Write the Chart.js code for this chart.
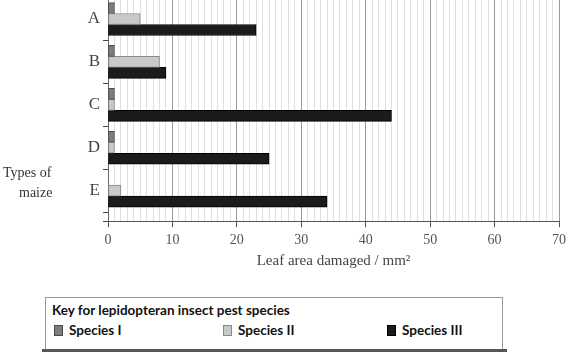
<!DOCTYPE html>
<html>
<head>
<meta charset="utf-8">
<script src="https://cdn.jsdelivr.net/npm/chart.js@4/dist/chart.umd.min.js"></script>
<style>
  html, body { margin: 0; padding: 0; background: #fff; }
  #wrap { position: relative; width: 568px; height: 356px; overflow: hidden; }
  #c { position: absolute; left: 0; top: 0; }
  #key { position: absolute; left: 45px; top: 297px; width: 456px; height: 51px;
         border: 1px solid #9a9a9a; border-bottom: none; box-sizing: content-box;
         font-family: Lato, "Liberation Sans", sans-serif; font-weight: bold; color: #111; }
  #keyline { position: absolute; left: 42px; top: 349px; width: 465px; height: 3px; background: #555; }
  #keytitle { position: absolute; left: 6px; top: 4px; font-size: 13.5px; white-space: nowrap; }
  .item { position: absolute; top: 24px; font-size: 13.5px; white-space: nowrap; }
  .sw { display: inline-block; width: 9px; height: 11px; vertical-align: -1px; margin-right: 6px; box-sizing: border-box; }
</style>
</head>
<body>
<div id="wrap">
  <canvas id="c" width="568" height="270"></canvas>
  <div id="key"><div id="keytitle"></div></div>
  <div id="keyline"></div>
</div>
<script>
const categories = ['A', 'B', 'C', 'D', 'E'];
const seriesNames = ['Species I', 'Species II', 'Species III'];
const speciesI   = [1, 1, 1, 1, 0];
const speciesII  = [5, 8, 1, 1, 2];
const speciesIII = [23, 9, 44, 25, 34];
const xTickMin = 0;
const xTickMax = 70;
const xMajorStep = 10;
const keyTitle = 'Key for lepidopteran insect pest species';
const xTitle = 'Leaf area damaged / mm\u00B2';
const yTitleLines = ['Types of', 'maize'];

const fills = ['#7d7d7d', '#c9c9c9', '#1b1b1b'];
const borders = ['#4a4a4a', '#8a8a8a', '#000000'];
const seriesValues = [speciesI, speciesII, speciesIII];

const datasets = seriesNames.map((name, s) => ({
  label: name,
  data: categories.map((c, i) => ({ x: seriesValues[s][i], y: i })),
  backgroundColor: fills[s],
  borderColor: borders[s],
  borderWidth: 1,
  borderSkipped: false,
  barThickness: 11
}));

const yTickValues = [];
for (let v = 0; v <= categories.length - 0.5; v += 0.5) yTickValues.push(v);

const yTitlePlugin = {
  id: 'yTitle',
  afterDraw(chart) {
    const ctx = chart.ctx;
    ctx.save();
    ctx.font = '14px "Liberation Serif", serif';
    ctx.fillStyle = '#333';
    ctx.textBaseline = 'alphabetic';
    ctx.textAlign = 'left';
    ctx.fillText(yTitleLines[0], 3, 177);
    ctx.fillText(yTitleLines[1], 19, 197);
    ctx.restore();
  }
};

new Chart(document.getElementById('c'), {
  type: 'bar',
  data: { datasets },
  plugins: [yTitlePlugin],
  options: {
    indexAxis: 'y',
    responsive: false,
    animation: false,
    devicePixelRatio: 1,
    layout: { padding: { top: 0, right: 9, bottom: 1, left: 0 } },
    plugins: { legend: { display: false }, tooltip: { enabled: false } },
    scales: {
      x: {
        type: 'linear',
        position: 'bottom',
        min: xTickMin,
        max: xTickMax,
        offset: false,
        afterFit: scale => { scale.paddingRight = 0; scale.paddingLeft = 0; },
        ticks: {
          stepSize: 1,
          autoSkip: false,
          maxRotation: 0,
          padding: 5,
          color: '#555',
          font: { family: '"Liberation Serif", serif', size: 14 },
          callback: v => (v % xMajorStep === 0 ? String(v) : '')
        },
        grid: {
          offset: false,
          color: ctx => (ctx.tick && ctx.tick.value % xMajorStep === 0 ? '#9a9a9a' : '#e0e0e0'),
          tickColor: ctx => (ctx.tick && ctx.tick.value % xMajorStep === 0 ? '#555' : 'rgba(0,0,0,0)'),
          tickLength: 6,
          lineWidth: 1
        },
        border: { display: true, color: '#555', width: 1 },
        title: {
          display: true,
          text: xTitle,
          color: '#444',
          font: { family: '"Liberation Serif", serif', size: 15, lineHeight: 1 },
          padding: { top: 0, bottom: 0 }
        }
      },
      y: {
        type: 'linear',
        reverse: true,
        offset: false,
        min: -0.443,
        max: 4.711,
        afterBuildTicks: scale => {
          scale.ticks = yTickValues.map(v => ({ value: v })).concat([{ value: scale.max }]);
        },
        afterFit: scale => { scale.width = 108; scale.paddingTop = 0; scale.paddingBottom = 0; },
        ticks: {
          autoSkip: false,
          padding: 3,
          color: '#444',
          font: { family: '"Liberation Serif", serif', size: 17 },
          callback: v => (Number.isInteger(v) ? categories[v] : '')
        },
        grid: {
          offset: false,
          drawOnChartArea: false,
          tickLength: 5,
          tickColor: ctx => (ctx.tick && Number.isInteger(ctx.tick.value) ? 'rgba(0,0,0,0)' : '#444')
        },
        border: { display: true, color: '#666', width: 1 }
      }
    }
  }
});

// Key (legend) built from series names and colours
document.getElementById('keytitle').textContent = keyTitle;
const key = document.getElementById('key');
const itemLefts = [8, 177, 341];
seriesNames.forEach((name, s) => {
  const it = document.createElement('div');
  it.className = 'item';
  it.style.left = itemLefts[s] + 'px';
  const sw = document.createElement('span');
  sw.className = 'sw';
  sw.style.background = fills[s];
  sw.style.border = '1px solid ' + borders[s];
  it.appendChild(sw);
  it.appendChild(document.createTextNode(name));
  key.appendChild(it);
});
</script>
</body>
</html>
